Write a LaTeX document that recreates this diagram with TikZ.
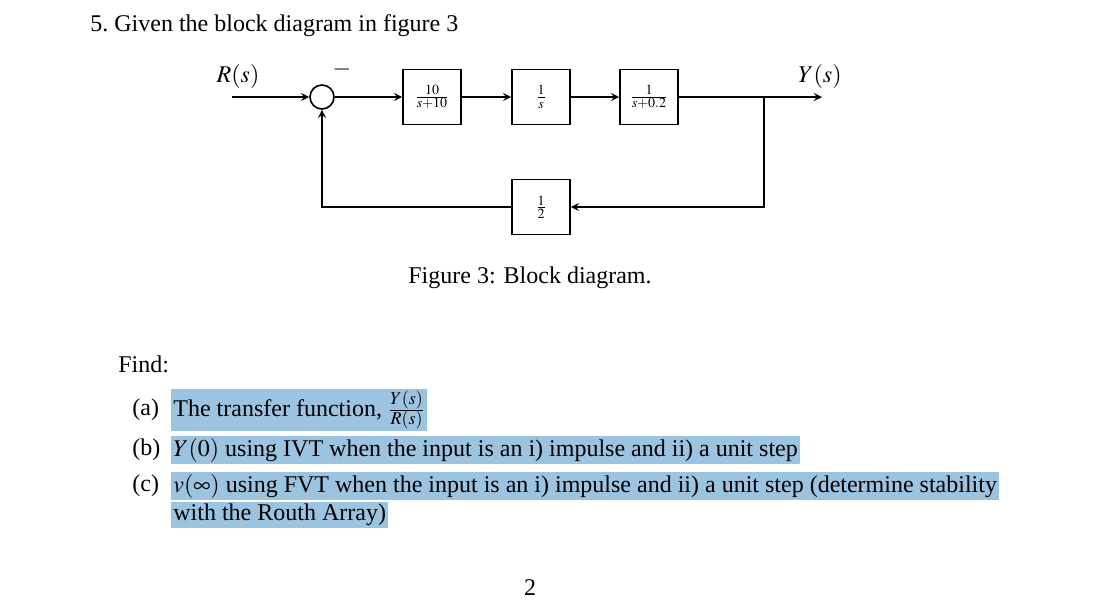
\documentclass[tikz,border=0pt]{standalone}
\usepackage{mathptmx}
\usepackage{fontspec}
\setmainfont{Liberation Serif}
\usetikzlibrary{positioning}
\definecolor{hilite}{RGB}{156,196,224}
\tikzset{
  block/.style={draw, thick, minimum width=29pt, minimum height=27.5pt, inner sep=0pt, font=\small},
  sum/.style={draw, thick, circle, minimum size=12pt, inner sep=0pt},
  sig/.style={->, thick, >=stealth},
  txt/.style={anchor=west, font=\fontsize{12}{14}\selectfont, inner sep=1pt},
  hl/.style={txt, fill=hilite}
}
\begin{document}
\begin{tikzpicture}[x=0.5pt, y=-0.5pt]
            \useasboundingbox (0,0) rectangle (1115,601);
            \node[txt] (title) at (88,26) {5.\ Given the block diagram in figure 3};

            \coordinate (in) at (232,97);
            \node[sum] (sum) at (322,97) {};
            \node[block] (plant) at (432,97) {$\frac{10}{s+10}$};
            \node[block] (integ) at (541,97) {$\frac{1}{s}$};
            \node[block] (lag) at (649,97) {$\frac{1}{s+0.2}$};
            \node[block] (half) at (541,207) {$\frac{1}{2}$};
            \coordinate (branch) at (764,97);
            \coordinate (out) at (822,97);

            \node[font=\fontsize{12}{14}\selectfont] (rlbl) at (238,76) {$R(s)$};
            \node[font=\fontsize{12}{14}\selectfont] (ylbl) at (820,76) {$Y(s)$};
            \node[font=\fontsize{12}{14}\selectfont] (minus) at (342,69) {$-$};

            \draw[sig] (in) -- (sum);
            \draw[sig] (sum) -- (plant);
            \draw[sig] (plant) -- (integ);
            \draw[sig] (integ) -- (lag);
            \draw[sig] (lag) -- (out);
            \draw[sig] (branch) |- (half);
            \draw[sig] (half) -| (sum);

            \node[txt, anchor=center] (caption) at (530,278) {Figure 3: Block diagram.};
            \node[txt] (find) at (116,364) {Find:};

            \node[txt] (ia) at (130,410) {(a)};
            \node[hl] (ta) at (171,410) {The transfer function, $\frac{Y(s)}{R(s)}$};
            \node[txt] (ib) at (130,450) {(b)};
            \node[hl] (tb) at (171,450) {$Y(0)$ using IVT when the input is an i) impulse and ii) a unit step};
            \node[txt] (ic) at (130,486) {(c)};
            \node[hl] (tc) at (171,486) {$v(\infty)$ using FVT when the input is an i) impulse and ii) a unit step (determine stability};
            \node[hl] (td) at (171,515) {with the Routh Array)};

            \node[txt, anchor=center] (page) at (530,588) {2};
\end{tikzpicture}
\end{document}
